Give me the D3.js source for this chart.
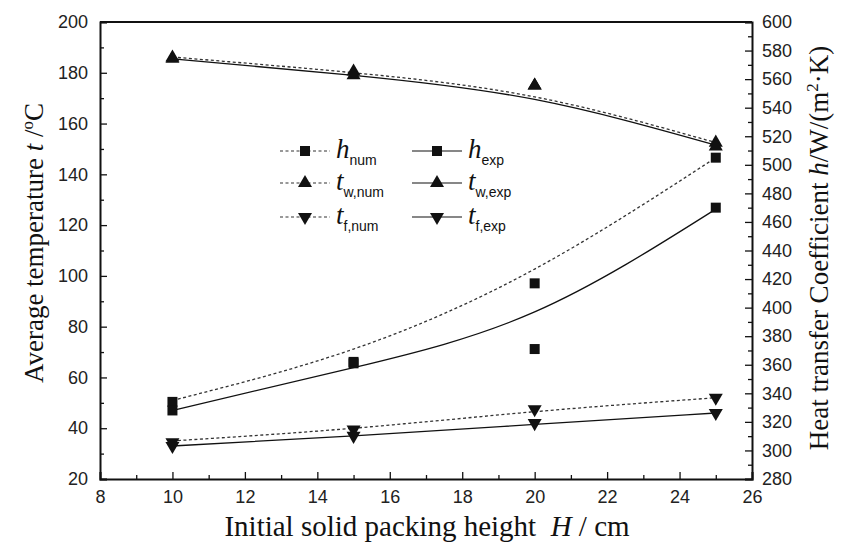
<!DOCTYPE html>
<html>
<head>
<meta charset="utf-8">
<script src="https://cdn.jsdelivr.net/npm/d3@7"></script>
<style>
  html, body { margin: 0; padding: 0; background: #fff; }
  svg { display: block; }
  .tick text { font-family: "Liberation Sans", Arimo, Arial, Helvetica, sans-serif; font-size: 18px; fill: #222; }
  .serif { font-family: "Liberation Serif", Tinos, "Times New Roman", Times, "DejaVu Serif", serif; }
  .sans { font-family: "Liberation Sans", Arimo, Arial, Helvetica, sans-serif; }
</style>
</head>
<body>
<svg id="chart" width="846" height="548"></svg>
<script>
// Packing heights (cm)
const H = [10, 15, 20, 25];

// Measured points
const hNum  = [334, 362, 417, 505];
const hExp  = [328, 361, 371, 470];
const twNum = [186, 180.5, 175, 152.5];
const twExp = [185.5, 179, 175, 151];
const tfNum = [34.5, 39.5, 47.5, 52];
const tfExp = [33, 37, 42, 46];

// Fitted trend lines
const hNumFit  = [335, 371, 427, 505];
const hExpFit  = [328, 358, 397, 469];
const twNumFit = [186.2, 180, 170.5, 152.5];
const twExpFit = [185.5, 179, 169.5, 151.5];
const tfNumFit = [35, 40, 46.5, 52];
const tfExpFit = [33, 37, 41.5, 46];

// Axis ticks
const xTicks = [8, 10, 12, 14, 16, 18, 20, 22, 24, 26];
const yLeftTicks = [20, 40, 60, 80, 100, 120, 140, 160, 180, 200];
const yRightTicks = d3.range(280, 601, 20);

const svg = d3.select("#chart");
const L = 100, R = 752, T = 22, B = 479;

const x = d3.scaleLinear().domain([8, 26]).range([L, R]);
const yL = d3.scaleLinear().domain([20, 200]).range([B, T]);
const yR = d3.scaleLinear().domain([280, 600]).range([B, T]);

// Axes (ticks point inward)
svg.append("g").attr("transform", `translate(0,${B})`)
  .call(d3.axisBottom(x).tickValues(xTicks).tickSize(-7).tickPadding(11).tickFormat(d3.format("d")));
svg.append("g").attr("transform", `translate(0,${B})`)
  .call(d3.axisBottom(x).tickValues(d3.range(9, 26, 2)).tickSize(-4).tickFormat(""))
  .select(".domain").remove();

svg.append("g").attr("transform", `translate(${L},0)`)
  .call(d3.axisLeft(yL).tickValues(yLeftTicks).tickSize(-7).tickPadding(12));
svg.append("g").attr("transform", `translate(${L},0)`)
  .call(d3.axisLeft(yL).tickValues(d3.range(30, 200, 20)).tickSize(-4).tickFormat(""))
  .select(".domain").remove();

svg.append("g").attr("transform", `translate(${R},0)`)
  .call(d3.axisRight(yR).tickValues(yRightTicks).tickSize(-7).tickPadding(10));
svg.append("g").attr("transform", `translate(${R},0)`)
  .call(d3.axisRight(yR).tickValues(d3.range(290, 600, 20)).tickSize(-4).tickFormat(""))
  .select(".domain").remove();

svg.selectAll(".domain").attr("stroke", "#111").attr("stroke-width", 2);
svg.selectAll(".tick line").attr("stroke", "#111").attr("stroke-width", 1.3);
svg.selectAll("g").attr("font-family", null);

// Top frame line
svg.append("line").attr("x1", L).attr("x2", R).attr("y1", T).attr("y2", T)
  .attr("stroke", "#111").attr("stroke-width", 2);

// Curves
const lineL = d3.line().x((d, i) => x(H[i])).y(d => yL(d)).curve(d3.curveNatural);
const lineR = d3.line().x((d, i) => x(H[i])).y(d => yR(d)).curve(d3.curveNatural);

const curves = [
  { data: hNumFit, gen: lineR, dash: "3,2.5" },
  { data: hExpFit, gen: lineR, dash: null },
  { data: twNumFit, gen: lineL, dash: "3,2.5" },
  { data: twExpFit, gen: lineL, dash: null },
  { data: tfNumFit, gen: lineL, dash: "3,2.5" },
  { data: tfExpFit, gen: lineL, dash: null }
];
curves.forEach(c => {
  svg.append("path").attr("d", c.gen(c.data)).attr("fill", "none")
    .attr("stroke", c.dash ? "#333" : "#111").attr("stroke-width", 1.3)
    .attr("stroke-dasharray", c.dash);
});

// Markers
const sq = d3.symbol().type(d3.symbolSquare).size(100);
const tri = d3.symbol().type(d3.symbolTriangle).size(85);
function marker(g, kind, cx, cy) {
  if (kind === "sq") {
    g.append("path").attr("d", sq()).attr("transform", `translate(${cx},${cy})`).attr("fill", "#111");
  } else if (kind === "up") {
    g.append("path").attr("d", tri()).attr("transform", `translate(${cx},${cy})`).attr("fill", "#111");
  } else {
    g.append("path").attr("d", tri()).attr("transform", `translate(${cx},${cy}) rotate(180)`).attr("fill", "#111");
  }
}
const pts = svg.append("g");
H.forEach((h, i) => {
  marker(pts, "sq", x(h), yR(hNum[i]));
  marker(pts, "sq", x(h), yR(hExp[i]));
  marker(pts, "up", x(h), yL(twNum[i]));
  marker(pts, "up", x(h), yL(twExp[i]));
  marker(pts, "down", x(h), yL(tfNum[i]));
  marker(pts, "down", x(h), yL(tfExp[i]));
});

// Legend
const legendItems = [
  { col: 0, row: 0, kind: "sq", dash: true, sym: "h", sub: "num" },
  { col: 0, row: 1, kind: "up", dash: true, sym: "t", sub: "w,num" },
  { col: 0, row: 2, kind: "down", dash: true, sym: "t", sub: "f,num" },
  { col: 1, row: 0, kind: "sq", dash: false, sym: "h", sub: "exp" },
  { col: 1, row: 1, kind: "up", dash: false, sym: "t", sub: "w,exp" },
  { col: 1, row: 2, kind: "down", dash: false, sym: "t", sub: "f,exp" }
];
const colX = [280, 412];
const rowY = [151, 183, 217];
const lg = svg.append("g");
legendItems.forEach(it => {
  const x0 = colX[it.col], y0 = rowY[it.row];
  lg.append("line").attr("x1", x0).attr("x2", x0 + 50).attr("y1", y0).attr("y2", y0)
    .attr("stroke", it.dash ? "#333" : "#111").attr("stroke-width", 1.2)
    .attr("stroke-dasharray", it.dash ? "3,2.5" : null);
  marker(lg, it.kind, x0 + 25, y0);
  const t = lg.append("text").attr("x", x0 + 56).attr("y", y0 + 7).attr("fill", "#111");
  t.append("tspan").attr("class", "serif").attr("font-style", "italic").attr("font-size", 27).text(it.sym);
  t.append("tspan").attr("class", "sans").attr("font-size", 14).attr("dy", 7).text(it.sub);
});

// Axis titles
const xt = svg.append("text").attr("class", "serif").attr("x", 427).attr("y", 536)
  .attr("text-anchor", "middle").attr("font-size", 29).attr("fill", "#111");
xt.append("tspan").text("Initial solid packing height\u00A0\u00A0");
xt.append("tspan").attr("font-style", "italic").text("H");
xt.append("tspan").text(" / cm");

const ylt = svg.append("text").attr("class", "serif").attr("transform", "translate(43,243) rotate(-90)")
  .attr("text-anchor", "middle").attr("font-size", 27).attr("fill", "#111");
ylt.append("tspan").text("Average temperature ");
ylt.append("tspan").attr("font-style", "italic").text("t");
ylt.append("tspan").text(" /");
ylt.append("tspan").attr("font-size", 17).attr("dy", -10).text("o");
ylt.append("tspan").attr("dy", 10).text("C");

const yrt = svg.append("text").attr("class", "serif").attr("transform", "translate(828,248) rotate(-90)")
  .attr("text-anchor", "middle").attr("font-size", 27).attr("fill", "#111");
yrt.append("tspan").text("Heat transfer Coefficient ");
yrt.append("tspan").attr("font-style", "italic").text("h");
yrt.append("tspan").text("/W/(m");
yrt.append("tspan").attr("font-size", 17).attr("dy", -10).text("2");
yrt.append("tspan").attr("dy", 10).text("\u00B7K)");
</script>
</body>
</html>
